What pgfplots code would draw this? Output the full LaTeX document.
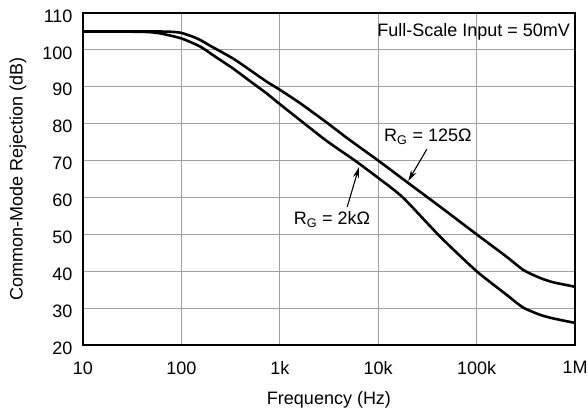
\documentclass[border=0pt]{standalone}
\usepackage{fontspec}
\setmainfont{Liberation Sans}
\usepackage{pgfplots}
\pgfplotsset{compat=1.18}
\usetikzlibrary{arrows.meta}
\newcommand{\cf}{\fontsize{18}{21}\selectfont}
\begin{document}
\begin{tikzpicture}
\begin{axis}[
    scale only axis, width=492pt, height=332pt,
    xmode=log, xmin=10, xmax=1e6, ymin=20, ymax=110,
    xtick={10,100,1000,10000,100000,1000000},
    xticklabels={10,100,1k,10k,100k,1M},
    ytick={20,30,...,110},
    grid=major,
    major grid style={gray!75, line width=0.8pt},
    major tick length=0pt, minor tick length=0pt,
    axis line style={line width=2.6pt},
    tick label style={font=\cf},
    /pgf/number format/assume math mode=true,
    xticklabel style={yshift=-13pt},
    yticklabel style={xshift=-7pt, yshift=-3pt},
    xlabel={Frequency (Hz)},
    ylabel={Common-Mode Rejection (dB)},
    every axis x label/.style={at={(axis description cs:0.5,-0.166)}, anchor=center, font=\cf},
    every axis y label/.style={at={(axis description cs:-0.132,0.5)}, anchor=center, rotate=90, font=\cf},
]
% R_G = 125 ohm
\addplot[black, line width=2.6pt, smooth, tension=0.4] coordinates {
    (10,105) (50,105) (80,104.9) (100,104.6) (130,103.6) (155,102.7)
    (200,101) (333,97.7) (500,94.5) (735,91.4) (1000,89.2) (1600,85.6)
    (3000,80.3) (5000,75.8) (10000,70) (20000,64) (42500,57.5)
    (100000,50) (200000,44) (300000,40.3) (440000,38.2) (600000,37)
    (1000000,35.8)
};
% R_G = 2 kohm
\addplot[black, line width=2.6pt, smooth, tension=0.4] coordinates {
    (10,105) (40,104.9) (60,104.5) (100,103.1) (155,100.9) (220,98.2)
    (333,95) (500,91.5) (735,88.2) (1000,85.3) (1600,81) (3000,75.3)
    (5800,70) (10000,65.3) (17800,60) (42500,49.4) (100000,40)
    (202000,33.6) (295000,30.2) (440000,28.2) (600000,27.2)
    (1000000,26)
};
\coordinate (o) at (rel axis cs:0,0);
\node[anchor=east, inner sep=0pt, font=\cf]
    at (rel axis cs:0.990,0.943) {Full-Scale Input = 50mV};
\node[font=\cf]
    at (rel axis cs:0.701,0.627) {R\textsubscript{G} = 125Ω};
\node[font=\cf]
    at (rel axis cs:0.506,0.377) {R\textsubscript{G} = 2kΩ};
\draw[line width=1.1pt, -{Stealth[length=11pt,width=6pt]}]
    (rel axis cs:0.699,0.590) -- (rel axis cs:0.661,0.494);
\draw[line width=1.1pt, -{Stealth[length=11pt,width=6pt]}]
    (rel axis cs:0.537,0.416) -- (rel axis cs:0.561,0.536);
\end{axis}
\pgfresetboundingbox
\path (o) ++(-83pt,-70pt) rectangle ++(588pt,415pt);
\end{tikzpicture}
\end{document}
